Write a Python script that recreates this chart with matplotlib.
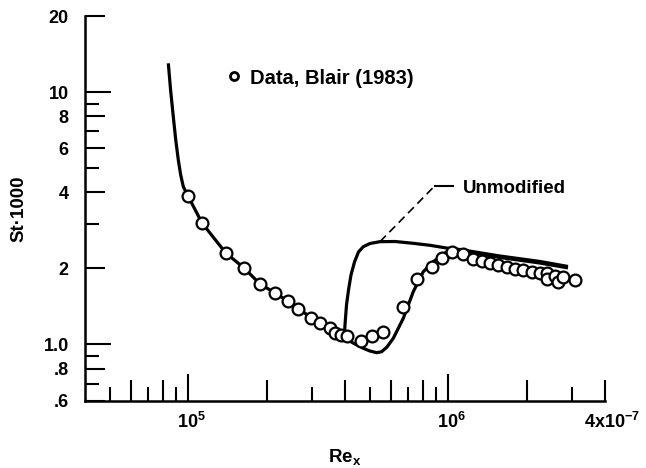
import math
import matplotlib
matplotlib.use("Agg")
import matplotlib.pyplot as plt
import matplotlib.transforms as mtransforms
from matplotlib.lines import Line2D
from matplotlib.ticker import NullLocator

plt.rcParams["font.family"] = ["Liberation Sans", "DejaVu Sans"]
plt.rcParams["font.weight"] = "bold"
plt.rcParams["mathtext.fontset"] = "custom"
plt.rcParams["mathtext.rm"] = "Liberation Sans:bold"
plt.rcParams["mathtext.it"] = "Liberation Sans:bold"
plt.rcParams["mathtext.bf"] = "Liberation Sans:bold"
plt.rcParams["mathtext.sf"] = "Liberation Sans:bold"
plt.rcParams["mathtext.default"] = "rm"

# Blair (1983) measurements: Re_x and St*1000
re_data = [1.00e5, 1.126e5, 1.396e5, 1.642e5, 1.887e5, 2.156e5, 2.412e5, 2.635e5,
           2.964e5, 3.21e5, 3.508e5, 3.667e5, 3.867e5, 4.096e5, 4.636e5, 5.088e5,
           5.633e5, 6.714e5, 7.558e5, 8.633e5, 9.43e5, 1.036e6, 1.142e6, 1.248e6,
           1.345e6, 1.447e6, 1.557e6, 1.677e6, 1.805e6, 1.943e6, 2.093e6, 2.253e6,
           2.391e6, 2.391e6, 2.573e6, 2.65e6, 2.77e6, 3.071e6]
st_data = [3.88, 3.04, 2.31, 2.015, 1.731, 1.604, 1.487, 1.379,
           1.277, 1.22, 1.159, 1.107, 1.086, 1.081, 1.037, 1.081,
           1.121, 1.411, 1.817, 2.033, 2.194, 2.331, 2.283, 2.171,
           2.132, 2.109, 2.065, 2.033, 1.986, 1.972, 1.942, 1.925,
           1.914, 1.812, 1.867, 1.773, 1.856, 1.80]

# modified transition model
re_model = [8.378e4, 8.549e4, 8.756e4, 8.949e4, 9.153e4, 9.35e4, 9.567e4, 9.97e4,
            1.129e5, 1.255e5, 1.396e5, 1.638e5, 1.887e5, 2.156e5, 2.41e5, 2.964e5,
            3.508e5, 4.006e5, 4.3e5, 4.711e5, 4.999e5, 5.304e5, 5.543e5, 5.81e5,
            6.144e5, 6.714e5, 7.336e5, 8.014e5, 8.756e5, 9.86e5, 1.109e6, 1.58e6,
            2.253e6, 2.887e6]
st_model = [12.99, 10.18, 7.98, 6.45, 5.38, 4.69, 4.22, 3.875,
            3.03, 2.64, 2.30, 2.01, 1.736, 1.60, 1.487, 1.279,
            1.157, 1.061, 1.014, 0.966, 0.942, 0.928, 0.936, 0.977,
            1.058, 1.27, 1.619, 1.942, 2.128, 2.33, 2.36, 2.211,
            2.102, 2.01]

# unmodified model, leaving the laminar branch
re_unmod = [3.981e5, 4.006e5, 4.06e5, 4.133e5, 4.225e5, 4.358e5, 4.514e5, 4.711e5,
            4.999e5, 5.462e5, 6.237e5, 7.336e5, 8.503e5, 1.0e6, 1.109e6, 1.58e6,
            2.253e6, 2.887e6]
st_unmod = [1.061, 1.195, 1.434, 1.644, 1.885, 2.122, 2.325, 2.44,
            2.512, 2.554, 2.558, 2.516, 2.471, 2.404, 2.378, 2.241,
            2.132, 2.037]

# axis ticks
x_ticks = [5e4, 6e4, 7e4, 8e4, 9e4, 1e5, 2e5, 3e5, 4e5, 5e5, 6e5, 7e5, 8e5, 9e5,
           1e6, 2e6, 3e6, 4e6]
x_tick_labels = ["", "", "", "", "", "$10^5$", "", "", "", "", "", "", "", "",
                 "$10^6$", "", "", "$4x10^{-7}$"]
y_ticks = [0.6, 0.7, 0.8, 0.9, 1.0, 2, 3, 4, 5, 6, 7, 8, 9, 10, 20]
y_tick_labels = [".6", "", ".8", "", "1.0", "2", "", "4", "", "6", "", "8", "", "10", "20"]

fig = plt.figure(figsize=(6.46, 4.68), dpi=100)
ax = fig.add_axes([0.13133, 0.14423, 0.80489, 0.82158])
ax.set_xscale("log")
ax.set_yscale("log")
ax.set_xlim(4e4, 4e6)
ax.set_ylim(0.6, 20)

for s in ("top", "right"):
    ax.spines[s].set_visible(False)
for s in ("left", "bottom"):
    ax.spines[s].set_linewidth(1.8)

line_kw = dict(color="black", lw=2.3, solid_capstyle="butt", solid_joinstyle="round")
ax.plot(re_model, st_model, zorder=2, **line_kw)
ax.plot(re_unmod, st_unmod, zorder=2, **line_kw)
ax.plot(re_data, st_data, linestyle="none", marker="o", ms=8.5, mew=1.6,
        mfc="white", mec="black", zorder=3)

# leader from the label to the unmodified curve
anchor = (re_unmod[9], st_unmod[9])
ax.plot([anchor[0], 8.887e5], [anchor[1], 4.255], color="black", lw=1.2,
        linestyle=(0, (5, 3)), zorder=2)
ax.plot([8.887e5, 1.045e6], [4.255, 4.255], color="black", lw=1.5, zorder=2)
ax.text(1.142e6, 3.97, "Unmodified", fontsize=13.5, fontweight="bold",
        ha="left", va="baseline")

handle = Line2D([], [], linestyle="none", marker="o", ms=5.8, mew=2.0,
                mfc="white", mec="black")
ax.legend([handle], ["Data, Blair (1983)"], loc="center left",
          bbox_to_anchor=(0.2744, 0.8387), frameon=False,
          handlelength=0.6, handletextpad=0.5, borderpad=0, borderaxespad=0,
          prop={"weight": "bold", "size": 14.5})

ax.set_xticks(x_ticks, x_tick_labels)
ax.set_yticks(y_ticks, y_tick_labels)
ax.xaxis.set_minor_locator(NullLocator())
ax.yaxis.set_minor_locator(NullLocator())
ax.tick_params(axis="x", direction="in", width=1.5, pad=8, labelsize=13)
ax.tick_params(axis="y", direction="in", width=1.5, pad=11.5, labelsize=13)

# three tick lengths: decades, even steps, odd steps
for tick, v in zip(ax.xaxis.get_major_ticks(), x_ticks):
    m = round(v / 10 ** math.floor(math.log10(v) + 1e-9))
    if v in (1e5, 1e6):
        size = 19.4
    elif m % 2 == 0:
        size = 15
    else:
        size = 10
    tick.tick1line.set_markersize(size)
for tick, v, lab in zip(ax.yaxis.get_major_ticks(), y_ticks, y_tick_labels):
    if v in (1.0, 10):
        size = 18.7
    elif lab:
        size = 14.4
    else:
        size = 10
    tick.tick1line.set_markersize(size)

# centre the mantissa of each power label on its tick
shifts = {"$10^5$": 3.5, "$10^6$": 3.5, "$4x10^{-7}$": 7.3}
for lab in ax.get_xticklabels():
    dx = shifts.get(lab.get_text(), 0)
    lab.set_transform(lab.get_transform()
                      + mtransforms.ScaledTranslation(dx / 100, 0, fig.dpi_scale_trans))

ax.set_xlabel("$Re_x$", fontsize=13.5, fontweight="bold")
ax.xaxis.set_label_coords(0.5, -0.122)
ax.set_ylabel("St·1000", fontsize=13.5, fontweight="bold")
ax.yaxis.set_label_coords(-0.111, 0.5)

fig.savefig("out.png", dpi=100, facecolor="white")
